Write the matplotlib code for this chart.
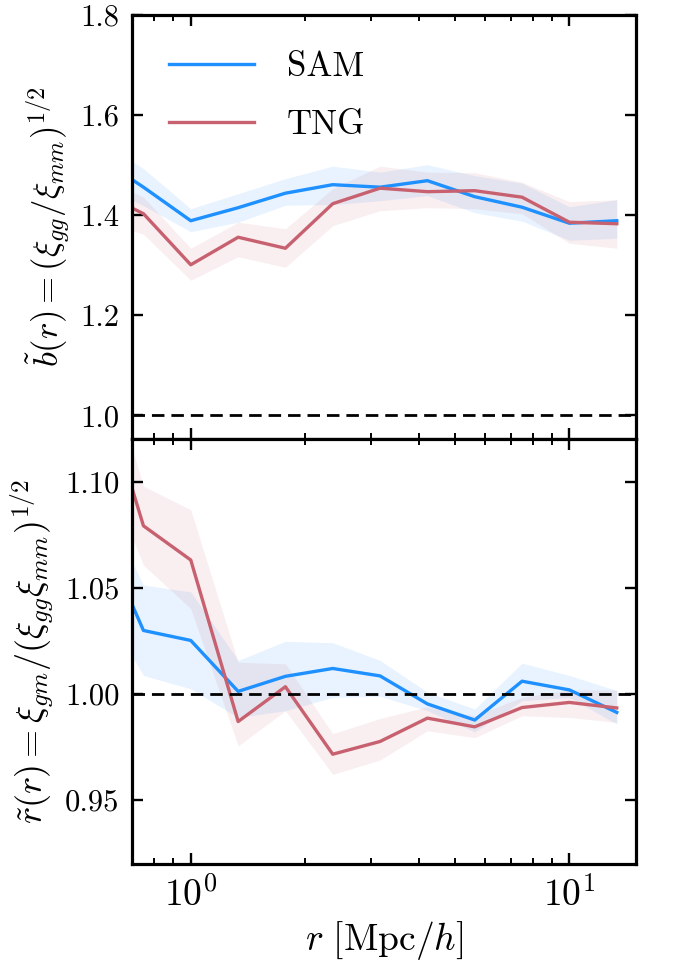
import matplotlib
matplotlib.use("Agg")
import matplotlib.pyplot as plt
import numpy as np

plt.rcParams['font.family'] = 'serif'
plt.rcParams['font.serif'] = ['cmr10', 'DejaVu Serif']
plt.rcParams['mathtext.fontset'] = 'cm'
plt.rcParams['axes.formatter.use_mathtext'] = True

# separation bins [Mpc/h]
r = [0.562, 0.750, 1.000, 1.334, 1.778, 2.371, 3.162, 4.217, 5.623, 7.499, 10.00, 13.34]

# top panel: bias b(r)
sam_b = [1.519, 1.456, 1.389, 1.415, 1.444, 1.461, 1.456, 1.469, 1.437, 1.416, 1.384, 1.389]
sam_b_lo = [1.467, 1.419, 1.367, 1.386, 1.420, 1.421, 1.429, 1.439, 1.405, 1.388, 1.350, 1.354]
sam_b_hi = [1.556, 1.493, 1.413, 1.443, 1.473, 1.498, 1.486, 1.501, 1.479, 1.464, 1.417, 1.431]
tng_b = [1.450, 1.403, 1.301, 1.356, 1.334, 1.423, 1.454, 1.447, 1.449, 1.436, 1.386, 1.383]
tng_b_lo = [1.394, 1.362, 1.270, 1.317, 1.296, 1.379, 1.409, 1.415, 1.413, 1.403, 1.344, 1.334]
tng_b_hi = [1.484, 1.436, 1.334, 1.386, 1.373, 1.453, 1.498, 1.486, 1.485, 1.466, 1.427, 1.431]

# bottom panel: cross-correlation coefficient r(r)
sam_r = [1.081, 1.030, 1.0253, 1.0013, 1.0084, 1.0121, 1.0086, 0.9954, 0.9878, 1.0061, 1.0020, 0.9914]
sam_r_lo = [1.047, 1.0088, 1.0025, 0.9890, 0.9922, 0.9985, 0.9990, 0.9922, 0.9822, 0.9969, 0.9985, 0.9859]
sam_r_hi = [1.097, 1.0514, 1.0482, 1.0159, 1.0249, 1.0242, 1.0159, 1.0009, 0.9930, 1.0146, 1.0088, 1.0017]
tng_r = [1.153, 1.0793, 1.0632, 0.9871, 1.0035, 0.9717, 0.9777, 0.9887, 0.9846, 0.9937, 0.9961, 0.9935]
tng_r_lo = [1.116, 1.0608, 1.0403, 0.9756, 0.9922, 0.9622, 0.9690, 0.9827, 0.9795, 0.9898, 0.9890, 0.9867]
tng_r_hi = [1.173, 1.0980, 1.0869, 1.0150, 1.0143, 0.9814, 0.9885, 0.9941, 0.9898, 0.9985, 1.0020, 1.0020]

c_sam = '#1e90ff'
c_tng = '#c8616f'

fig = plt.figure(figsize=(6.81, 9.61), dpi=100)
gs = fig.add_gridspec(2, 1, left=0.194, right=0.934, top=0.9844, bottom=0.101, hspace=0)
ax1 = fig.add_subplot(gs[0])
ax2 = fig.add_subplot(gs[1], sharex=ax1)

lw = 2.4
ax1.fill_between(r, sam_b_lo, sam_b_hi, color=c_sam, alpha=0.1, lw=0)
ax1.fill_between(r, tng_b_lo, tng_b_hi, color=c_tng, alpha=0.1, lw=0)
ax1.plot(r, sam_b, color=c_sam, lw=lw, label='SAM')
ax1.plot(r, tng_b, color=c_tng, lw=lw, label='TNG')
ax1.axhline(1.0, color='k', ls='--', lw=2.0, dashes=(4.5, 2.5))

ax2.fill_between(r, sam_r_lo, sam_r_hi, color=c_sam, alpha=0.1, lw=0)
ax2.fill_between(r, tng_r_lo, tng_r_hi, color=c_tng, alpha=0.1, lw=0)
ax2.plot(r, sam_r, color=c_sam, lw=lw)
ax2.plot(r, tng_r, color=c_tng, lw=lw)
ax2.axhline(1.0, color='k', ls='--', lw=2.0, dashes=(4.5, 2.5))

ax1.set_xscale('log')
ax1.set_xlim(0.7, 15)
ax1.set_ylim(0.952, 1.8)
ax2.set_ylim(0.92, 1.12)
ax1.set_yticks([1.0, 1.2, 1.4, 1.6, 1.8])
ax1.set_yticklabels(['1.0', '1.2', '1.4', '1.6', '1.8'])
ax2.set_yticks([0.95, 1.00, 1.05, 1.10])
ax2.set_yticklabels(['0.95', '1.00', '1.05', '1.10'])

for ax in (ax1, ax2):
    for s in ax.spines.values():
        s.set_linewidth(2.3)
    ax.tick_params(which='both', direction='in', top=True, right=True)
    ax.tick_params(axis='y', labelsize=22)
    ax.tick_params(axis='x', labelsize=27)
    ax.tick_params(which='major', length=8, width=1.7, pad=9)
    ax.tick_params(which='minor', length=4.5, width=1.4)
    ax.yaxis.set_minor_locator(matplotlib.ticker.NullLocator())
plt.setp(ax1.get_xticklabels(), visible=False)

ax1.set_ylabel(r'$\tilde{b}(r) = (\xi_{gg}/\xi_{mm})^{1/2}$', fontsize=25, labelpad=6)
ax2.set_ylabel(r'$\tilde{r}(r) = \xi_{gm}/(\xi_{gg}\xi_{mm})^{1/2}$', fontsize=26, labelpad=6)
ax2.set_xlabel(r'$r\ [\mathrm{Mpc}/h]$', fontsize=27, labelpad=4)

ax1.legend(loc='upper left', frameon=False, fontsize=25, handlelength=2.45,
           handletextpad=0.95, labelspacing=0.75, borderaxespad=0.65,
           bbox_to_anchor=(0.0, 1.0))

fig.savefig('out.png', dpi=100)
